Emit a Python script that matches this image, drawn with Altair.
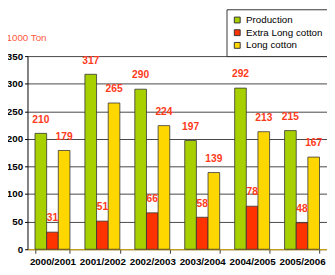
import altair as alt
import pandas as pd

years = ["2000/2001", "2001/2002", "2002/2003", "2003/2004", "2004/2005", "2005/2006"]
series = ["Production", "Extra Long cotton", "Long cotton"]
production = [210, 317, 290, 197, 292, 215]
extra_long = [31, 51, 66, 58, 78, 48]
long_cotton = [179, 265, 224, 139, 213, 167]
colors = ["#a8d000", "#ff3300", "#ffd700"]
y_ticks = [0, 50, 100, 150, 200, 250, 300, 350]

rows = []
for i, y in enumerate(years):
    for s, vals in zip(series, [production, extra_long, long_cotton]):
        rows.append({"year": y, "series": s, "value": vals[i]})
df = pd.DataFrame(rows)

x = alt.X("year:N", sort=years, title=None,
          scale=alt.Scale(paddingInner=0.3, paddingOuter=0.15),
          axis=alt.Axis(labelAngle=0, labelFont="Liberation Sans", labelFontWeight="bold",
                        labelFontSize=10, labelColor="#000", tickBand="extent",
                        domainColor="#e0b000", tickColor="#333", tickSize=4, labelPadding=4))
xo = alt.XOffset("series:N", sort=series)
y = alt.Y("value:Q", scale=alt.Scale(domain=[0, 350], nice=False),
          axis=alt.Axis(values=y_ticks, labelOverlap=False, title="1000 Ton", titleAngle=0,
                        titleX=-22, titleY=-19, titleAlign="left", titleBaseline="middle",
                        titleColor="#ff5a40", titleFont="Liberation Sans", titleFontWeight="normal",
                        titleFontSize=10, labelFont="Liberation Sans", labelFontWeight="bold",
                        labelFontSize=10, labelColor="#000", gridColor="#444", gridOpacity=1,
                        domainColor="#000", tickColor="#000", tickSize=3, labelPadding=2))

base = alt.Chart(df).encode(x=x, xOffset=xo, y=y)

bars = base.mark_bar(stroke="#333", strokeWidth=0.8).encode(
    color=alt.Color("series:N", sort=series,
                    scale=alt.Scale(domain=series, range=colors),
                    legend=alt.Legend(title=None, orient="none", legendX=204, legendY=-48,
                                      strokeColor="#333", padding=6, symbolType="square",
                                      symbolSize=36, symbolStrokeColor="#333", symbolStrokeWidth=1,
                                      labelFont="Liberation Sans", labelFontSize=10,
                                      labelColor="#000", rowPadding=3, labelLimit=200,
                                      fillColor="#fff", offset=0)),
)

labels = base.mark_text(color="#ff3a1a", font="Liberation Sans", fontWeight="bold",
                        fontSize=10.5, dy=-9, baseline="bottom").encode(
    text="value:Q",
)

chart = alt.layer(bars, labels).properties(
    width=307, height=198,
    autosize=alt.AutoSizeParams(type="none"),
    padding={"left": 20, "top": 46, "right": 0, "bottom": 20},
).configure_view(stroke=None)

chart.save("out.html", embed_options={"renderer": "svg", "actions": False})
